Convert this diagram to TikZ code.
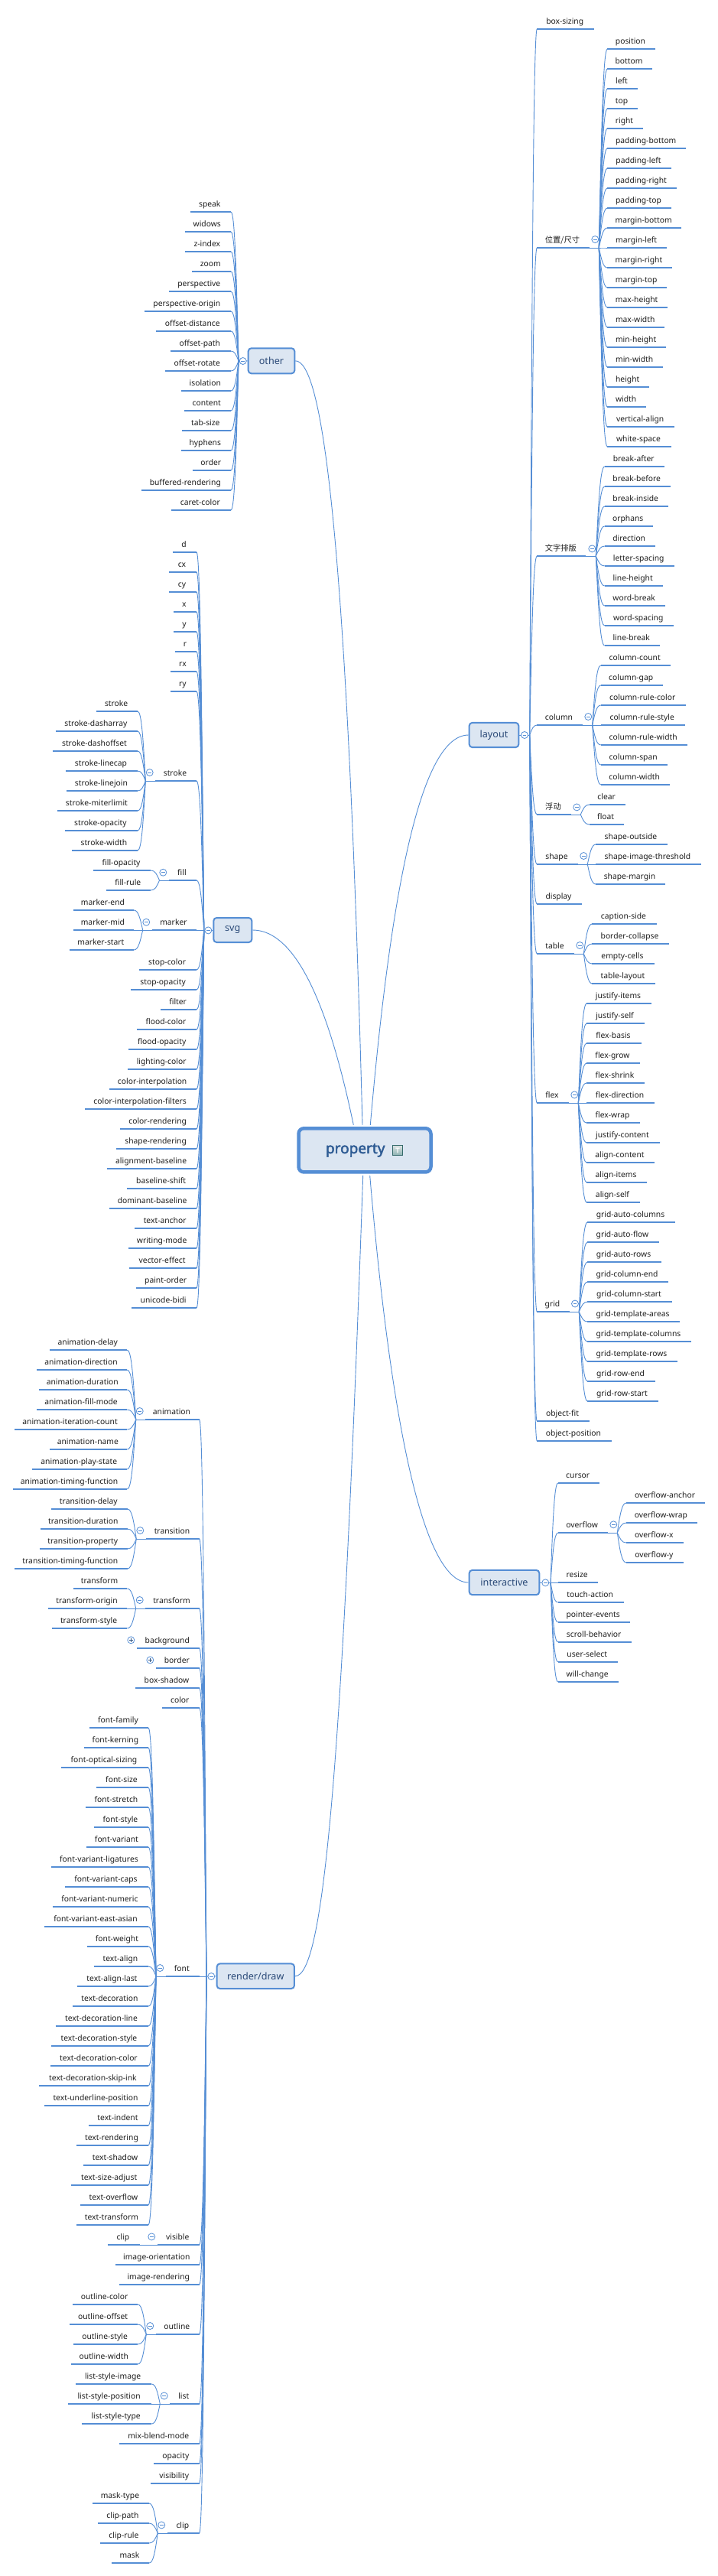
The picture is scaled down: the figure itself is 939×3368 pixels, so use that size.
\documentclass[tikz,border=0pt]{standalone}
\usepackage{fontspec}
\setmainfont{Noto Sans}[Ligatures=NoCommon]
\newfontfamily\cjk{Noto Sans CJK SC}
\newfontfamily\rootfont{Noto Sans}[FakeBold=2.5,Ligatures=NoCommon]
\usetikzlibrary{calc}
\definecolor{mainblue}{HTML}{558ED5}
\definecolor{boxfill}{HTML}{DCE6F2}
\definecolor{boxtext}{HTML}{2B4A78}
\definecolor{roottext}{HTML}{2F5C94}
\definecolor{leaftext}{HTML}{1E1E1E}
\tikzset{
  x=1pt,y=-1pt,
  leaf/.style={inner xsep=0pt,inner ysep=3pt,text height=8pt,text depth=3.5pt,minimum height=14pt,font=\fontsize{10.3}{12}\selectfont,text=leaftext},
  under/.style={draw=mainblue,line width=2.5pt},
  conn/.style={draw=mainblue,line width=0.9pt},
  mainconn/.style={draw=mainblue,line width=0.9pt},
  topbox/.style={draw=mainblue,fill=boxfill,line width=2pt,rounded corners=4pt,inner sep=0pt,text=boxtext,font=\fontsize{12.6}{15}\selectfont},
  rootbox/.style={draw=mainblue,fill=boxfill,line width=4.5pt,rounded corners=7pt,inner sep=0pt},
  btn/.style={circle,draw=mainblue,fill=white,line width=0.8pt,minimum size=9pt,inner sep=0pt},
  minusbtn/.style={btn,path picture={\draw[mainblue,line width=0.5pt] ([xshift=-2.3pt]path picture bounding box.center) -- ([xshift=2.3pt]path picture bounding box.center);}},
  plusbtn/.style={btn,path picture={\draw[mainblue!60!black,line width=0.5pt] ([xshift=-2.3pt]path picture bounding box.center) -- ([xshift=2.3pt]path picture bounding box.center) ([yshift=-2.3pt]path picture bounding box.center) -- ([yshift=2.3pt]path picture bounding box.center);}},
}
\newcommand{\posname}{{\cjk 位置/尺寸}}
\newcommand{\typoname}{{\cjk 文字排版}}
\newcommand{\floatname}{{\cjk 浮动}}
% prefix, right x, fork x, fork y, list of left/y/text
\newcommand{\lbranch}[5]{%
  \coordinate (#1f) at (#3,#4);
  \foreach \xa/\yy/\ttxt [count=\nn] in {#5}{
    \pgfmathsetlengthmacro\wdd{(#2-\xa)*1pt}
    \node[leaf,anchor=south east,minimum width=\wdd] (#1\nn) at (#2,\yy) {\ttxt\kern2pt};
    \draw[under] (#1\nn.south west) -- (#1\nn.south east);
    \draw[conn] (#1\nn.south east) .. controls ({#2+.5*(#3-#2)},\yy) and ({#3-.3*(#3-#2)},{\yy+.4*(#4-\yy)}) .. (#1f);
  }}
% prefix, left x, fork x, fork y, list of right/y/text
\newcommand{\rbranch}[5]{%
  \coordinate (#1f) at (#3,#4);
  \foreach \xa/\yy/\ttxt [count=\nn] in {#5}{
    \pgfmathsetlengthmacro\wdd{(\xa-#2)*1pt}
    \node[leaf,anchor=south west,minimum width=\wdd] (#1\nn) at (#2,\yy) {\ttxt\kern2pt};
    \draw[under] (#1\nn.south west) -- (#1\nn.south east);
    \draw[conn] (#1\nn.south west) .. controls ({#2+.5*(#3-#2)},\yy) and ({#3-.3*(#3-#2)},{\yy+.4*(#4-\yy)}) .. (#1f);
  }}
\begin{document}
\begin{tikzpicture}
\useasboundingbox (0,0) rectangle (939,3368);
\fill[white] (0,0) rectangle (939,3368);

% ---------- other ----------
\lbranch{oth}{302}{312}{472}{249/277/speak,242/303/widows,242/329/z-index,251/355/zoom,221/381/perspective,189/407/perspective-origin,204/433/offset-distance,223/459/offset-path,216/485/offset-rotate,237/511/isolation,241/537/content,238/563/tab-size,237/589/hyphens,252/615/order,185/641/buffered-rendering,224/667/caret-color}

% ---------- svg ----------
\lbranch{svg}{257}{266.7}{1216}{226.3/722/d,221.3/748/cx,221.3/774/cy,227.3/800/x,227.3/826/y,229.3/852/r,223.3/878/rx,223.3/904/ry,203.3/1021/stroke,221.3/1151/fill,199.3/1216/marker,182.7/1268/stop-color,171.7/1294/stop-opacity,210.7/1320/filter,179.3/1346/flood-color,168.7/1372/flood-opacity,167.7/1398/lighting-color,143.7/1424/color-interpolation,111.7/1450/color-interpolation-filters,157.7/1476/color-rendering,152.7/1502/shape-rendering,140.7/1528/alignment-baseline,166.7/1554/baseline-shift,143.7/1580/dominant-baseline,176.7/1606/text-anchor,168.7/1632/writing-mode,169.7/1658/vector-effect,178.7/1684/paint-order,172.7/1710/unicode-bidi}
\lbranch{sto}{180}{190.3}{1021}{126.7/930/stroke,73.3/956/stroke-dasharray,69.3/982/stroke-dashoffset,86.3/1008/stroke-linecap,87.3/1034/stroke-linejoin,75.3/1060/stroke-miterlimit,85.3/1086/stroke-opacity,94.3/1112/stroke-width}
\lbranch{fil}{197.3}{208.5}{1151}{122.3/1138/fill-opacity,139.7/1164/fill-rule}
\lbranch{mar}{175}{186.7}{1216}{96.3/1190/marker-end,96.3/1216/marker-mid,91.3/1242/marker-start}
\draw[conn] (stof) -- (svg9.south west);
\draw[conn] (filf) -- (svg10.south west);
\draw[conn] (marf) -- (svg11.south west);

% ---------- render/draw ----------
\lbranch{ren}{260.7}{270}{2584}{190.7/1856/animation,191.7/2012/transition,190.7/2103/transform,179.3/2155/background,204.3/2181/border,177.7/2207/box-shadow,212.3/2233/color,217.3/2584/font,206.3/2935/visible,151.3/2961/image-orientation,156.3/2987/image-rendering,204.3/3052/outline,222.3/3143/list,156.3/3195/mix-blend-mode,201.3/3221/opacity,197.3/3247/visibility,219.3/3312/clip}
\lbranch{ani}{166.3}{177.7}{1856}{65.7/1765/animation-delay,48.3/1791/animation-direction,51.7/1817/animation-duration,48.3/1843/animation-fill-mode,19.3/1869/animation-iteration-count,65.7/1895/animation-name,42.7/1921/animation-play-state,17.3/1947/animation-timing-function}
\lbranch{tsn}{166.7}{178.3}{2012}{67.3/1973/transition-delay,53.3/1999/transition-duration,52.3/2025/transition-property,19.3/2051/transition-timing-function}
\lbranch{tsf}{166.3}{177.7}{2103}{96.3/2077/transform,63.3/2103/transform-origin,68.3/2129/transform-style}
\lbranch{fon}{194}{204}{2584}{117.3/2259/font-family,110.3/2285/font-kerning,80.3/2311/font-optical-sizing,126.3/2337/font-size,112.3/2363/font-stretch,123.3/2389/font-style,113.3/2415/font-variant,67.3/2441/font-variant-ligatures,85.3/2467/font-variant-caps,69.3/2493/font-variant-numeric,58.3/2519/font-variant-east-asian,114.3/2545/font-weight,123.3/2571/text-align,101.3/2597/text-align-last,95.3/2623/text-decoration,73.3/2649/text-decoration-line,67.3/2675/text-decoration-style,66.3/2701/text-decoration-color,51.3/2727/text-decoration-skip-ink,58.3/2753/text-underline-position,116.3/2779/text-indent,100.3/2805/text-rendering,109.3/2831/text-shadow,93.7/2857/text-size-adjust,105.3/2883/text-overflow,100.3/2909/text-transform}
\lbranch{vis}{182.7}{193}{2935}{141.3/2935/clip}
\lbranch{out}{180.3}{191.3}{3052}{95.3/3013/outline-color,91.3/3039/outline-offset,96.3/3065/outline-style,93.7/3091/outline-width}
\lbranch{lis}{198.3}{209.3}{3143}{99.3/3117/list-style-image,89.3/3143/list-style-position,107.3/3169/list-style-type}
\lbranch{cli}{195}{206.3}{3312}{121.3/3273/mask-type,128.3/3299/clip-path,131.3/3325/clip-rule,146.3/3351/mask}
\draw[conn] (anif) -- (ren1.south west);
\draw[conn] (tsnf) -- (ren2.south west);
\draw[conn] (tsff) -- (ren3.south west);
\draw[conn] (fonf) -- (ren8.south west);
\draw[conn] (visf) -- (ren9.south west);
\draw[conn] (outf) -- (ren12.south west);
\draw[conn] (lisf) -- (ren13.south west);
\draw[conn] (clif) -- (ren17.south west);

% ---------- layout ----------
\rbranch{lay}{702.3}{692.7}{961}{776.7/38/box-sizing,770.3/324/\posname,766/727/\typoname,761.3/948/column,746.3/1065/\floatname,755.3/1130/shape,760.3/1182/display,750.3/1247/table,743.3/1442/flex,744.3/1715/grid,770.3/1858/object-fit,799.3/1884/object-position}
\rbranch{pos}{794.3}{783.3}{324}{856.3/64/position,852.3/90/bottom,833.3/116/left,833.3/142/top,840.3/168/right,896.7/194/padding-bottom,877.3/220/padding-left,884.3/246/padding-right,877.3/272/padding-top,890.7/298/margin-bottom,871.7/324/margin-left,878.3/350/margin-right,871.7/376/margin-top,872.7/402/max-height,868.7/428/max-width,870.7/454/min-height,866.7/480/min-width,848.7/506/height,844.7/532/width,881.7/558/vertical-align,877.3/584/white-space}
\rbranch{typ}{790.7}{779.3}{727}{868.3/610/break-after,876.3/636/break-before,873.3/662/break-inside,853.3/688/orphans,856.3/714/direction,881.3/740/letter-spacing,866.3/766/line-height,869.3/792/word-break,880.3/818/word-spacing,862.3/844/line-break}
\rbranch{col}{785.7}{774.7}{948}{876.3/870/column-count,866.3/896/column-gap,896.3/922/column-rule-color,895.3/948/column-rule-style,898.3/974/column-rule-width,872.3/1000/column-span,875.3/1026/column-width}
\rbranch{flo}{770.7}{759.3}{1065}{817.3/1052/clear,815.3/1078/float}
\rbranch{sha}{779.3}{768.3}{1130}{872.3/1104/shape-outside,916.3/1130/shape-image-threshold,869.3/1156/shape-margin}
\rbranch{tab}{774.3}{763.3}{1247}{858.3/1208/caption-side,874.3/1234/border-collapse,855.3/1260/empty-cells,856.3/1286/table-layout}
\rbranch{fle}{767.3}{756.3}{1442}{851.3/1312/justify-items,842.3/1338/justify-self,838.3/1364/flex-basis,836.3/1390/flex-grow,842.3/1416/flex-shrink,855.3/1442/flex-direction,836.3/1468/flex-wrap,862.3/1494/justify-content,855.3/1520/align-content,845.3/1546/align-items,836.3/1572/align-self}
\rbranch{gri}{768.3}{757.3}{1715}{882.3/1598/grid-auto-columns,861.3/1624/grid-auto-flow,864.3/1650/grid-auto-rows,873.3/1676/grid-column-end,878.3/1702/grid-column-start,888.3/1728/grid-template-areas,903.3/1754/grid-template-columns,885.3/1780/grid-template-rows,856.3/1806/grid-row-end,860.3/1832/grid-row-start}
\draw[conn] (posf) -- (lay2.south east);
\draw[conn] (typf) -- (lay3.south east);
\draw[conn] (colf) -- (lay4.south east);
\draw[conn] (flof) -- (lay5.south east);
\draw[conn] (shaf) -- (lay6.south east);
\draw[conn] (tabf) -- (lay8.south east);
\draw[conn] (flef) -- (lay9.south east);
\draw[conn] (grif) -- (lay10.south east);

% ---------- interactive ----------
\rbranch{int}{729.7}{720}{2069}{783.3/1939/cursor,794.3/2004/overflow,781.3/2069/resize,815.3/2095/touch-action,823.3/2121/pointer-events,825.3/2147/scroll-behavior,807.3/2173/user-select,808.3/2199/will-change}
\rbranch{ove}{819}{807.3}{2004}{921.7/1965/overflow-anchor,911.3/1991/overflow-wrap,893.3/2017/overflow-x,893.3/2043/overflow-y}
\draw[conn] (ovef) -- (int2.south east);

% ---------- boxes ----------
\node[topbox,minimum width=60.6pt,minimum height=33pt] (other) at (355,471.8) {other};
\node[topbox,minimum width=50pt,minimum height=32pt] (svgbox) at (304.3,1216) {svg};
\node[topbox,minimum width=101.3pt,minimum height=32.6pt] (render) at (334.3,2583.7) {render/draw};
\node[topbox,minimum width=64.6pt,minimum height=32.2pt] (layout) at (646,961) {layout};
\node[topbox,minimum width=91.6pt,minimum height=32.3pt] (interactive) at (659.5,2069) {interactive};
\node[rootbox,minimum width=173pt,minimum height=57.2pt] (root) at (477,1503.85) {};
\node[inner sep=0pt,font=\rootfont\fontsize{19}{22}\selectfont,text=roottext] (rootlabel) at (464.7,1504) {property};
\node[draw=black!30!teal!60!gray,line width=0.7pt,top color=cyan!10!gray!25,bottom color=teal!50!gray!60,minimum size=13pt,inner sep=0pt,text=white,font=\rootfont\fontsize{9}{10}\selectfont] (rooticon) at (520,1504) {T};

% ---------- main connectors ----------
\draw[mainconn] (other.east) .. controls (420,472) and (453,673) .. ($(root.north)+(-3,-2.2)$);
\draw[mainconn] (svgbox.east) .. controls (395,1216) and (436,1345) .. ($(root.north)+(-14.7,-2.2)$);
\draw[mainconn] (layout.west) .. controls (545,961) and (508,1200) .. ($(root.north)+(7.3,-2.2)$);
\draw[mainconn] (render.east) .. controls (422,2584) and (447,2335) .. ($(root.south)+(-2.3,2.2)$);
\draw[mainconn] (interactive.west) .. controls (550,2069) and (509,1835) .. ($(root.south)+(6.7,2.2)$);

% ---------- links from boxes to forks ----------
\draw[conn] (other.west) -- (othf);
\draw[conn] (svgbox.west) -- (svgf);
\draw[conn] (render.west) -- (renf);
\draw[conn] (layout.east) -- (layf);
\draw[conn] (interactive.east) -- (intf);

% ---------- collapse buttons ----------
\node[minusbtn] (b01) at (317.7,472) {};
\node[minusbtn] (b02) at (272.3,1216.4) {};
\node[minusbtn] (b03) at (195.7,1010) {};
\node[minusbtn] (b04) at (213.3,1140.7) {};
\node[minusbtn] (b05) at (191.3,1205.7) {};
\node[minusbtn] (b06) at (276.3,2584) {};
\node[minusbtn] (b07) at (182.7,1845) {};
\node[minusbtn] (b08) at (183.3,2001) {};
\node[minusbtn] (b09) at (182.7,2092) {};
\node[plusbtn] (b10) at (171.3,2144.3) {};
\node[plusbtn] (b11) at (196.3,2170.4) {};
\node[minusbtn] (b12) at (209.3,2573) {};
\node[minusbtn] (b13) at (198.3,2924.4) {};
\node[minusbtn] (b14) at (196.3,3041) {};
\node[minusbtn] (b15) at (214.7,3132.4) {};
\node[minusbtn] (b16) at (211.3,3301.4) {};
\node[minusbtn] (b17) at (686,961) {};
\node[minusbtn] (b18) at (778.3,313) {};
\node[minusbtn] (b19) at (774.3,717.4) {};
\node[minusbtn] (b20) at (769.3,937) {};
\node[minusbtn] (b21) at (754.3,1055.4) {};
\node[minusbtn] (b22) at (763.3,1119) {};
\node[minusbtn] (b23) at (758.3,1236) {};
\node[minusbtn] (b24) at (751.3,1431.4) {};
\node[minusbtn] (b25) at (752,1704.5) {};
\node[minusbtn] (b26) at (713.3,2069.3) {};
\node[minusbtn] (b27) at (802.3,1993.3) {};
\end{tikzpicture}
\end{document}
